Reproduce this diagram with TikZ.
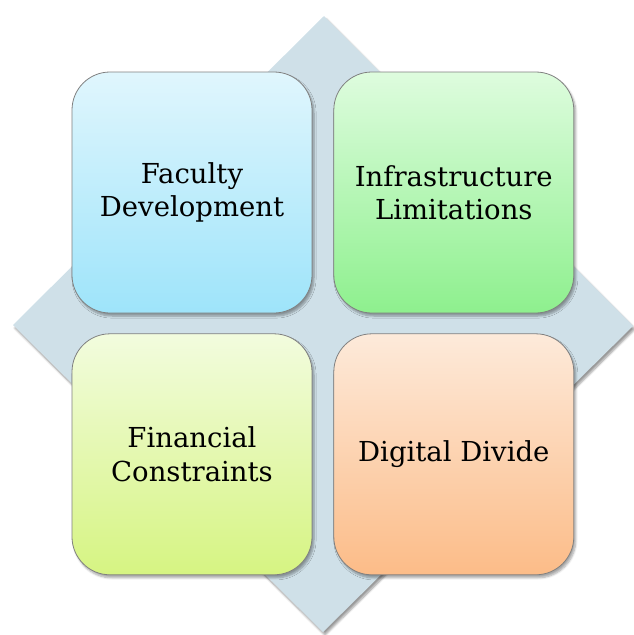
\documentclass[tikz,border=0pt]{standalone}
\usepackage{fontspec}
\setmainfont{DejaVu Serif}
\usetikzlibrary{positioning,shadows.blur}
\definecolor{diamondfill}{HTML}{CFE0E8}
\tikzset{
  tile/.style={draw=black!50, line width=0.8pt, rounded corners=38pt,
    minimum width=240pt, minimum height=241pt, align=center,
    font=\fontsize{27.5}{33.5}\selectfont,
    blur shadow={shadow xshift=2pt, shadow yshift=-3pt, shadow blur steps=6, shadow opacity=35}},
}
\begin{document}
\begin{tikzpicture}[x=1pt,y=-1pt]
    \useasboundingbox (0,0) rectangle (633,635);

    \fill[diamondfill, blur shadow={shadow xshift=2pt, shadow yshift=-3pt, shadow blur steps=6, shadow opacity=40}]
      (324,16) -- (633,326) -- (323,632) -- (13,325) -- cycle;

    \node[tile, top color={rgb,255:red,224;green,246;blue,253}, bottom color={rgb,255:red,158;green,228;blue,250}]
      (faculty) at (192,192.5) {Faculty\\Development};
    \node[tile, right=21pt of faculty, top color={rgb,255:red,222;green,252;blue,222}, bottom color={rgb,255:red,142;green,240;blue,142}]
      (infra) {Infrastructure\\Limitations};
    \node[tile, below=20pt of faculty, top color={rgb,255:red,242;green,252;blue,222}, bottom color={rgb,255:red,214;green,244;blue,130}]
      (finance) {Financial\\Constraints};
    \node[tile, right=21pt of finance, top color={rgb,255:red,253;green,234;blue,218}, bottom color={rgb,255:red,252;green,188;blue,136}]
      (divide) {Digital Divide};

\end{tikzpicture}
\end{document}
